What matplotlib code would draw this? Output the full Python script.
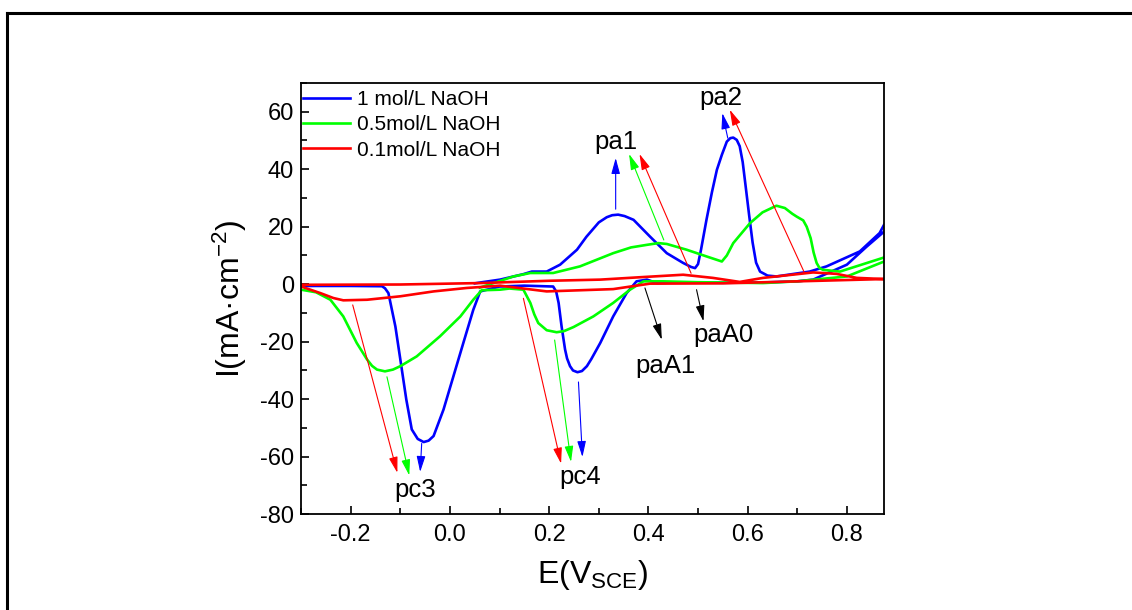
import matplotlib
matplotlib.use("Agg")
import matplotlib.pyplot as plt
from matplotlib.lines import Line2D
from matplotlib.ticker import MultipleLocator

plt.rcParams["font.family"] = ["Liberation Sans", "DejaVu Sans"]
plt.rcParams["mathtext.fontset"] = "custom"
plt.rcParams["mathtext.rm"] = "Liberation Sans"
plt.rcParams["mathtext.it"] = "Liberation Sans:italic"
plt.rcParams["axes.unicode_minus"] = False

# ---- data ----
labels = ["1 mol/L NaOH", "0.5mol/L NaOH", "0.1mol/L NaOH"]
colors = ["#0000ff", "#00ff00", "#ff0000"]

# 1 mol/L: positive-going scan then back to -0.3 V
e_1m = [0.05, 0.061, 0.101, 0.148, 0.165, 0.195, 0.222, 0.256, 0.275, 0.30, 0.316, 0.327,
        0.339, 0.352, 0.37, 0.403, 0.437, 0.47, 0.486, 0.494, 0.500, 0.506, 0.517, 0.528,
        0.538, 0.548, 0.558, 0.565, 0.571, 0.578, 0.584, 0.590, 0.596, 0.603, 0.610,
        0.617, 0.625, 0.640, 0.658, 0.725, 0.759, 0.826, 0.866, 0.875, 0.895,
        0.875, 0.84, 0.80, 0.732, 0.70, 0.63, 0.55, 0.45, 0.417, 0.397, 0.376,
        0.356, 0.329, 0.303, 0.285, 0.276, 0.266, 0.257, 0.248, 0.242, 0.236,
        0.232, 0.225, 0.219, 0.214, 0.208,
        0.15, 0.10, 0.061, 0.047, 0.027, 0.007, -0.013, -0.033, -0.043, -0.053,
        -0.065, -0.077, -0.088, -0.100, -0.110, -0.124, -0.131, -0.137, -0.2, -0.3]
i_1m = [0.3, 0.6, 1.6, 3.5, 4.4, 4.4, 6.8, 12.0, 16.5, 21.5, 23.3, 24.0,
        24.2, 23.7, 22.4, 16.6, 10.8, 7.4, 6.0, 5.6, 7.0, 12.0, 22.4, 32.0,
        39.8, 45.0, 49.6, 50.8, 51.0, 50.2, 48.0, 42.5, 34.0, 24.0, 14.5,
        7.5, 4.4, 3.0, 2.7, 4.4, 6.2, 11.4, 17.8, 20.7, 24.0,
        18.3, 13.1, 6.8, 1.6, 1.0, 0.6, 0.5, 0.6, 0.4, 1.6, 1.0,
        -3.1, -11.2, -20.4, -26.0, -28.5, -30.2, -30.6, -30.0, -28.5, -25.8,
        -22.7, -14.7, -6.5, -2.5, -0.8,
        -0.5, -0.8, -2.5, -8.9, -20.4, -32.0, -43.6, -52.8, -54.4, -54.9,
        -53.8, -50.5, -40.1, -26.2, -14.7, -3.1, -1.4, -0.7, -0.6, -0.6]

# 0.5 mol/L
e_05m = [0.06, 0.128, 0.162, 0.208, 0.262, 0.329, 0.365, 0.397, 0.42, 0.437, 0.477,
         0.520, 0.548, 0.558, 0.571, 0.605, 0.630, 0.658, 0.675, 0.690, 0.699, 0.712,
         0.719, 0.727, 0.733, 0.739, 0.745, 0.752, 0.786, 0.875, 0.895,
         0.875, 0.80, 0.699, 0.631, 0.5, 0.43, 0.39, 0.363, 0.329, 0.289, 0.249,
         0.230, 0.215, 0.195, 0.178, 0.170, 0.162, 0.148, 0.12, 0.101, 0.064, 0.047,
         0.021, -0.02, -0.067, -0.1, -0.115, -0.131, -0.147, -0.157, -0.167, -0.188,
         -0.215, -0.241, -0.27, -0.3]
i_05m = [-1.2, 2.7, 3.9, 3.9, 6.2, 10.8, 12.8, 13.7, 14.3, 14.0, 12.0,
         9.5, 7.9, 10.0, 14.3, 21.3, 25.0, 27.3, 26.5, 24.5, 23.5, 22.2,
         20.0, 16.0, 11.0, 7.4, 5.6, 5.0, 4.4, 9.3, 10.2,
         7.9, 2.7, 1.0, 0.4, 0.7, 1.0, 1.0, -1.9, -6.5, -11.2, -14.9,
         -16.3, -16.7, -16.0, -13.5, -10.5, -6.5, -1.9, -1.5, -1.9, -2.1, -5.4,
         -11.2, -18.1, -25.1, -28.5, -29.7, -30.3, -29.7, -28.4, -26.2, -20.4,
         -11.2, -5.4, -2.8, -1.9]

# 0.1 mol/L
e_01m = [-0.3, -0.1, 0.061, 0.2, 0.303, 0.39, 0.47, 0.53, 0.584, 0.631, 0.732,
         0.779, 0.82, 0.875, 0.895,
         0.875, 0.70, 0.55, 0.403, 0.329, 0.195, 0.101, 0.034, -0.033, -0.1,
         -0.167, -0.215, -0.235, -0.261, -0.3]
i_01m = [-0.2, -0.1, 0.4, 1.2, 1.6, 2.5, 3.3, 2.2, 0.8, 2.2, 4.1,
         3.6, 2.2, 1.8, 1.9,
         1.8, 1.0, 0.3, 0.2, -1.7, -2.5, -0.5, -1.3, -2.5, -4.2,
         -5.4, -5.6, -4.8, -3.1, -0.8]

# peak marker arrows: tail -> head
arrow_tail_x = [0.334, 0.431, 0.486, 0.560, 0.715, -0.196, -0.127, -0.057,
                0.148, 0.211, 0.259, 0.393, 0.497]
arrow_tail_y = [26.1, 15.4, 3.8, 50.8, 3.8, -7.2, -32.2, -55.4,
                -4.9, -19.4, -34.0, -1.3, -1.9]
arrow_head_x = [0.334, 0.361, 0.382, 0.549, 0.564, -0.106, -0.082, -0.060,
                0.224, 0.244, 0.267, 0.427, 0.511]
arrow_head_y = [43.9, 45.3, 45.3, 59.5, 60.7, -65.6, -66.5, -65.3,
                -62.4, -61.8, -60.1, -19.3, -12.9]
arrow_colors = ["#0000ff", "#00ff00", "#ff0000", "#0000ff", "#ff0000",
                "#ff0000", "#00ff00", "#0000ff", "#ff0000", "#00ff00",
                "#0000ff", "black", "black"]

peak_names = ["pa1", "pa2", "paA0", "paA1", "pc3", "pc4"]
peak_x = [0.335, 0.545, 0.552, 0.435, -0.071, 0.262]
peak_y = [49.6, 64.6, -17.5, -28.6, -71.4, -67.0]

fig = plt.figure(figsize=(11.32, 6.10), dpi=100)
ax = fig.add_axes([0.266, 0.157, 0.515, 0.707])

for e, i, c, lab in zip([e_1m, e_05m, e_01m], [i_1m, i_05m, i_01m], colors, labels):
    ax.plot(e, i, color=c, lw=1.9, label=lab, solid_joinstyle="round")

for x0, y0, x1, y1, c in zip(arrow_tail_x, arrow_tail_y, arrow_head_x, arrow_head_y, arrow_colors):
    ax.annotate("", xy=(x1, y1), xytext=(x0, y0),
                arrowprops=dict(arrowstyle="-|>,head_length=0.8,head_width=0.22",
                                color=c, lw=0.8, shrinkA=0, shrinkB=0,
                                mutation_scale=12))

for name, x, y in zip(peak_names, peak_x, peak_y):
    ax.text(x, y, name, fontsize=18.5, ha="center", va="center")

ax.set_xlim(-0.3, 0.875)
ax.set_ylim(-80, 70)
ax.xaxis.set_minor_locator(MultipleLocator(0.1))
ax.yaxis.set_minor_locator(MultipleLocator(10))
ax.set_xticks([-0.2, 0.0, 0.2, 0.4, 0.6, 0.8])
ax.set_xticklabels(["-0.2", "0.0", "0.2", "0.4", "0.6", "0.8"])
ax.set_yticks([-80, -60, -40, -20, 0, 20, 40, 60])
ax.tick_params(which="both", direction="in", top=False, right=False,
               labelsize=17, width=1.2)
ax.tick_params(axis="x", which="major", length=6, pad=7)
ax.tick_params(axis="y", which="major", length=6, pad=5)
ax.tick_params(which="minor", length=4)
for sp in ax.spines.values():
    sp.set_linewidth(1.3)

ax.set_xlabel("E(V$_{\\mathregular{SCE}}$)", fontsize=23, labelpad=9)
ax.set_ylabel("I(mA·cm$^{\\mathregular{-2}}$)", fontsize=23, labelpad=8)

ax.legend(loc="upper left", bbox_to_anchor=(0.0, 0.988), frameon=False,
          fontsize=15, handlelength=2.25, handletextpad=0.35, labelspacing=0.3,
          borderaxespad=0.0, borderpad=0.1)

# outer frame (top and left edges only)
fig.add_artist(Line2D([7 / 1132, 1.0], [1 - 13 / 610, 1 - 13 / 610],
                      color="black", lw=2.2, transform=fig.transFigure))
fig.add_artist(Line2D([7 / 1132, 7 / 1132], [0.0, 1 - 13 / 610],
                      color="black", lw=2.2, transform=fig.transFigure))

fig.savefig("out.png", dpi=100)
